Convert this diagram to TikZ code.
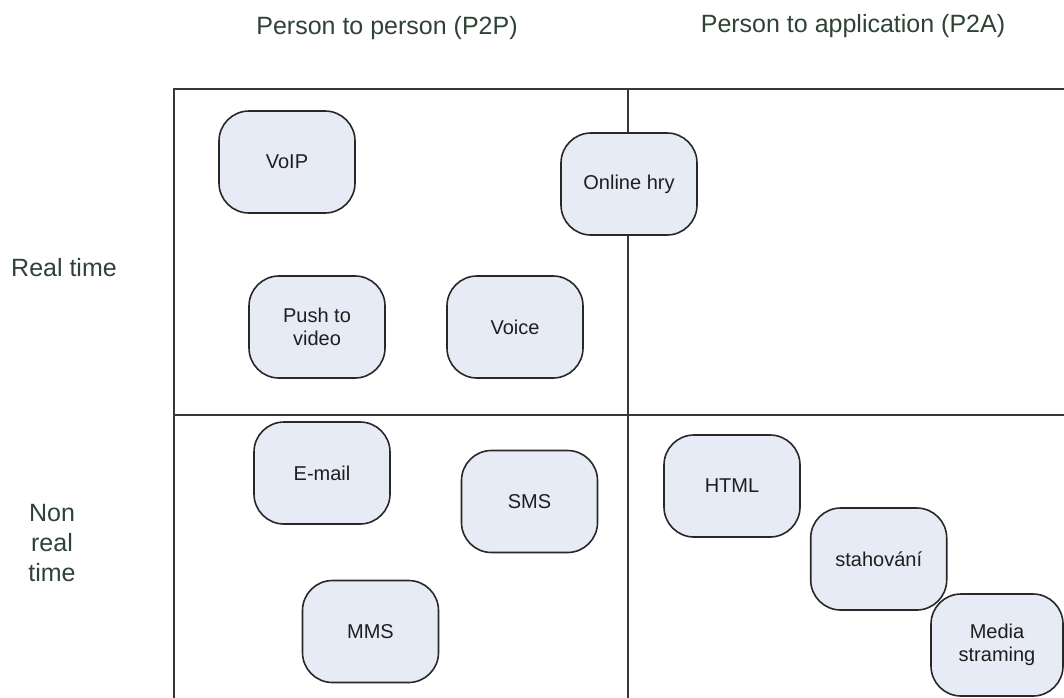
\documentclass[tikz,border=0pt]{standalone}
\usepackage{fontspec}
\setmainfont{Liberation Sans}
\definecolor{boxfill}{RGB}{231,235,246}
\definecolor{boxline}{RGB}{40,40,40}
\definecolor{labeltext}{RGB}{46,66,54}
\definecolor{gridline}{RGB}{55,55,55}
\definecolor{itemtext}{RGB}{30,30,30}
\begin{document}
\begin{tikzpicture}[x=1pt,y=-1pt,
  item/.style={draw=boxline, line width=1.6pt, fill=boxfill,
    rounded corners=30pt, minimum width=136pt, minimum height=102pt,
    inner sep=0pt, align=center, text=itemtext,
    font=\fontsize{20}{23}\selectfont},
  axislabel/.style={text=labeltext, align=center,
    font=\fontsize{25}{30}\selectfont},
  frame/.style={draw=gridline, line width=2.2pt},
  divider/.style={draw=gridline, line width=1.5pt}]
\useasboundingbox (0,0) rectangle (1064,697);
\clip (0,0) rectangle (1064,697);

% quadrant grid
\path[frame] (1075,89) -- (174,89) -- (174,710);
\path[divider] (628,89) -- (628,710);
\path[divider] (174,415) -- (1075,415);

% axis labels
\node[axislabel] (p2p) at (387,28) {Person to person (P2P)};
\node[axislabel] (p2a) at (853,26) {Person to application (P2A)};
\node[axislabel] (rt) at (64,268) {Real time};
\node[axislabel] (nrt) at (52,543) {Non\\real\\time};

% services
\node[item] (voip) at (287,162) {VoIP};
\node[item] (online) at (629,184) {Online hry};
\node[item] (push) at (317,327) {Push to\\video};
\node[item] (voice) at (515,327) {Voice};
\node[item] (email) at (322,473) {E-mail};
\node[item] (sms) at (529.5,501.5) {SMS};
\node[item] (mms) at (370.5,631.5) {MMS};
\node[item] (html) at (732,486) {HTML};
\node[item] (stah) at (878.7,559) {stahování};
\node[item, minimum width=132pt] (media) at (997,645) {Media\\straming};
\end{tikzpicture}
\end{document}
